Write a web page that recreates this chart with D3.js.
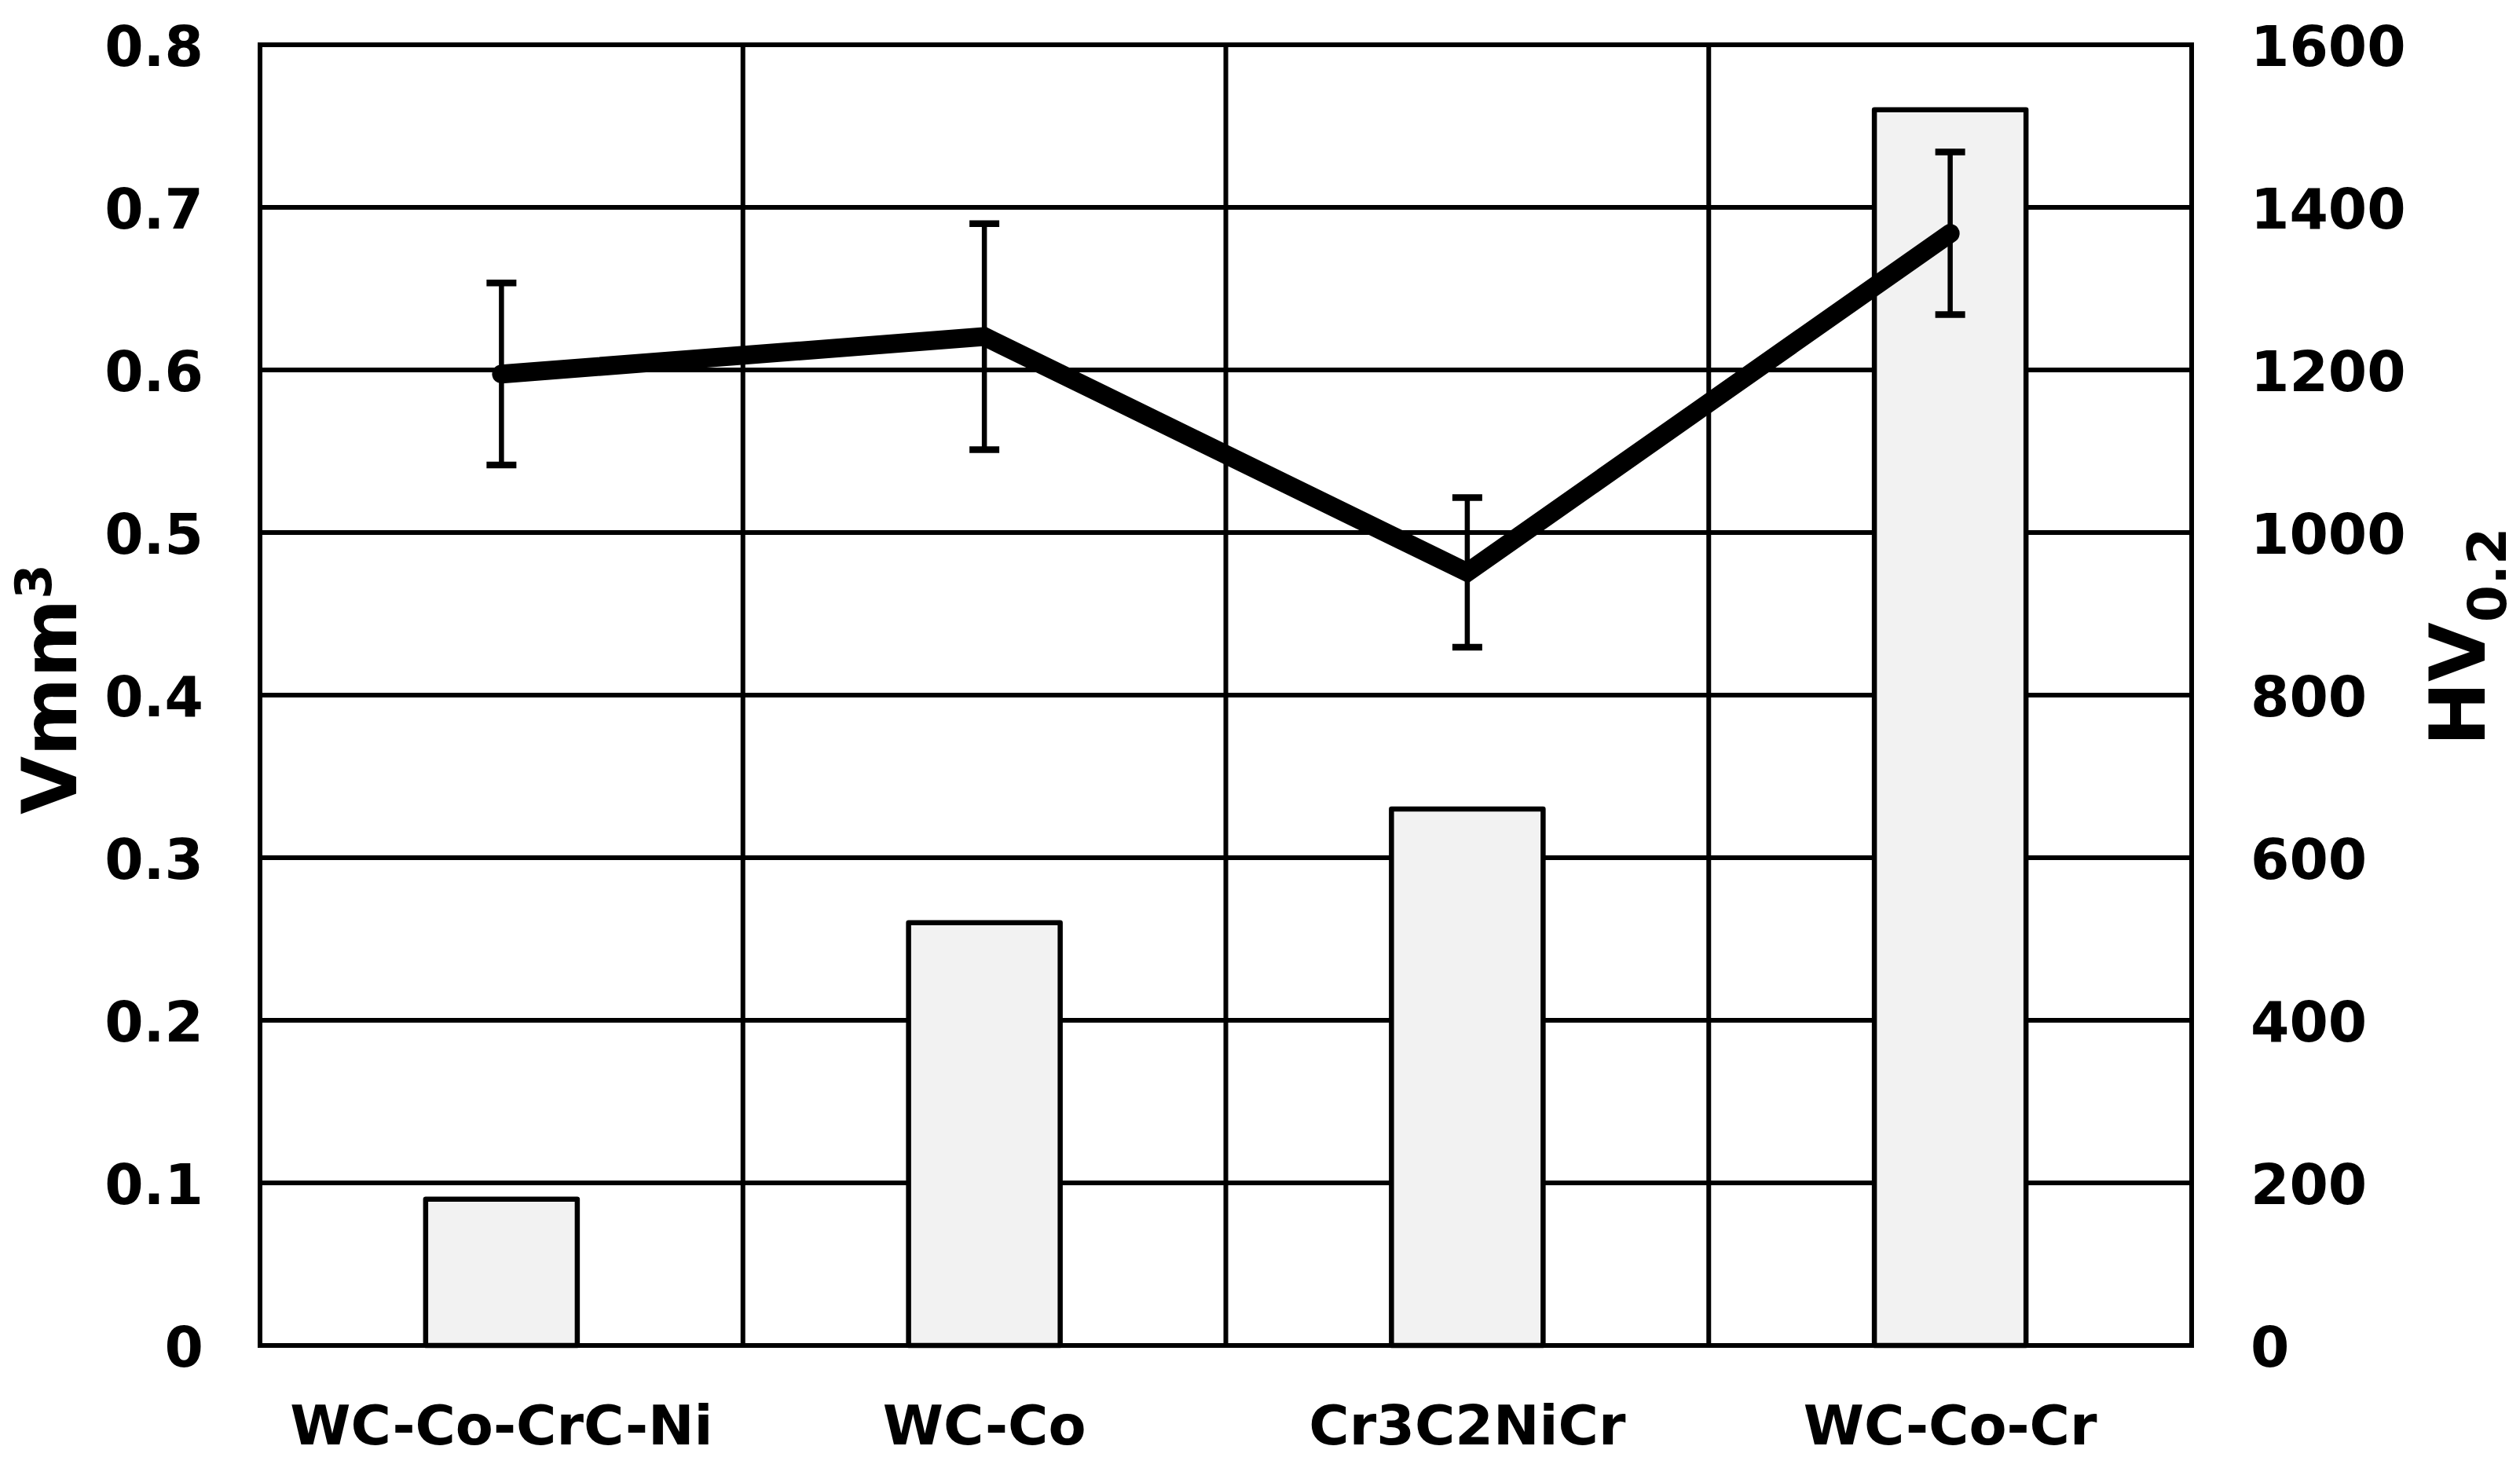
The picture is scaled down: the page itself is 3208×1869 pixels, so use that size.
<!DOCTYPE html>
<html>
<head>
<meta charset="utf-8">
<script src="https://cdn.jsdelivr.net/npm/d3@7"></script>
<style>
  html, body { margin: 0; padding: 0; background: #fff; }
  svg { display: block; }
  text { font-family: "DejaVu Sans", Verdana, sans-serif; font-weight: bold; fill: #000; }
</style>
</head>
<body>
<script>
const categories = ["WC-Co-CrC-Ni", "WC-Co", "Cr3C2NiCr", "WC-Co-Cr"];
const wearVolume = [0.09, 0.26, 0.33, 0.76];
const hardness = [1195, 1241, 951, 1368];
const hardnessErr = [112, 139, 92, 100];
const leftTicks = [0, 0.1, 0.2, 0.3, 0.4, 0.5, 0.6, 0.7, 0.8];
const rightTicks = [0, 200, 400, 600, 800, 1000, 1200, 1400, 1600];

const W = 3208, H = 1869;
const m = { left: 331, right: W - 2790, top: 57, bottom: H - 1713 };

const svg = d3.select("body").append("svg").attr("width", W).attr("height", H);

const x = d3.scaleBand().domain(categories).range([m.left, W - m.right]).padding(0);
const y = d3.scaleLinear().domain([0, 0.8]).range([H - m.bottom, m.top]);
const y2 = d3.scaleLinear().domain([0, 1600]).range([H - m.bottom, m.top]);

const LW = 6;

// horizontal gridlines
svg.append("g").selectAll("line").data(leftTicks).join("line")
  .attr("x1", m.left).attr("x2", W - m.right)
  .attr("y1", d => y(d)).attr("y2", d => y(d))
  .attr("stroke", "#000").attr("stroke-width", LW);

// vertical gridlines at band boundaries
const bounds = categories.map(c => x(c)).concat([x(categories[categories.length - 1]) + x.bandwidth()]);
svg.append("g").selectAll("line").data(bounds).join("line")
  .attr("x1", d => d).attr("x2", d => d)
  .attr("y1", m.top - LW / 2).attr("y2", H - m.bottom + LW / 2)
  .attr("stroke", "#000").attr("stroke-width", LW);

// bars
const barW = x.bandwidth() * 0.314;
svg.append("g").selectAll("rect").data(categories).join("rect")
  .attr("x", c => x(c) + x.bandwidth() / 2 - barW / 2)
  .attr("width", barW)
  .attr("y", (c, i) => y(wearVolume[i]))
  .attr("height", (c, i) => y(0) - y(wearVolume[i]))
  .attr("fill", "#f2f2f2").attr("stroke", "#000").attr("stroke-width", 6.5)
  .attr("stroke-linejoin", "round");

// redraw bottom axis line over bars
svg.append("line")
  .attr("x1", m.left - LW / 2).attr("x2", W - m.right + LW / 2)
  .attr("y1", y(0)).attr("y2", y(0))
  .attr("stroke", "#000").attr("stroke-width", LW);

// error bars
const cx = c => x(c) + x.bandwidth() / 2;
const eb = svg.append("g");
categories.forEach((c, i) => {
  const top = y2(hardness[i] + hardnessErr[i]);
  const bot = y2(hardness[i] - hardnessErr[i]);
  eb.append("line").attr("x1", cx(c)).attr("x2", cx(c)).attr("y1", top).attr("y2", bot)
    .attr("stroke", "#000").attr("stroke-width", 6.5);
  [top, bot].forEach(yy => {
    eb.append("line").attr("x1", cx(c) - 19).attr("x2", cx(c) + 19).attr("y1", yy).attr("y2", yy)
      .attr("stroke", "#000").attr("stroke-width", 8.5);
  });
});

// hardness line
const line = d3.line().x(d => cx(d.c)).y(d => y2(d.v));
svg.append("path")
  .datum(categories.map((c, i) => ({ c, v: hardness[i] })))
  .attr("d", line)
  .attr("fill", "none").attr("stroke", "#000").attr("stroke-width", 24)
  .attr("stroke-linecap", "round").attr("stroke-linejoin", "miter");

const fontCss = "'DejaVu Sans', Verdana, sans-serif";

// left axis tick labels
const yAxis = d3.axisLeft(y).tickValues(leftTicks).tickSize(0).tickPadding(0)
  .tickFormat(d => d === 0 ? "0" : d3.format(".1f")(d));
const gL = svg.append("g").attr("transform", `translate(259,0)`).call(yAxis);
gL.select(".domain").remove();
gL.selectAll("text").attr("font-size", 71).attr("dy", "0.37em")
  .style("font-family", fontCss).style("font-weight", "bold");

// right axis tick labels
const yAxisR = d3.axisRight(y2).tickValues(rightTicks).tickSize(0).tickPadding(0)
  .tickFormat(d3.format("d"));
const gR = svg.append("g").attr("transform", `translate(2865,0)`).call(yAxisR);
gR.select(".domain").remove();
gR.selectAll("text").attr("font-size", 71).attr("dy", "0.37em")
  .style("font-family", fontCss).style("font-weight", "bold");

// category labels
const xAxis = d3.axisBottom(x).tickSize(0).tickPadding(0);
const gB = svg.append("g").attr("transform", `translate(0,1839)`).call(xAxis);
gB.select(".domain").remove();
gB.selectAll("text").attr("font-size", 70).attr("dy", 0)
  .style("font-family", fontCss).style("font-weight", "bold");

// left title
const tl = svg.append("text").attr("transform", "translate(97,1037) rotate(-90)")
  .attr("font-size", 96).attr("text-anchor", "start");
tl.append("tspan").text("Vmm");
tl.append("tspan").text("3").attr("font-size", 64).attr("dy", -32);

// right title
const tr = svg.append("text").attr("transform", "translate(3163,950) rotate(-90)")
  .attr("font-size", 98).attr("text-anchor", "start");
tr.append("tspan").text("HV");
tr.append("tspan").text("0.2").attr("font-size", 68).attr("dy", 27);
</script>
</body>
</html>
